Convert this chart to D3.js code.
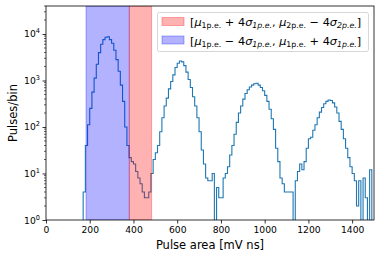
<!DOCTYPE html>
<html><head><meta charset="utf-8">
<script src="https://cdn.jsdelivr.net/npm/d3@7"></script>
<style>body{margin:0;background:#fff}svg{display:block;font-family:"DejaVu Sans",sans-serif}</style>
</head><body><svg id="c" width="381" height="259"></svg>
<script>
// Histogram: left bin edges (mV ns), bin width 10
const binStart = 170;
const binWidth = 10;
const counts = [
  4, 40, 112, 251, 562, 1122, 2239, 3981, 6026, 7586,   // 170-260
  8511, 8700, 7586, 6310, 4467, 2818, 1585, 794, 355, 100, // 270-360
  40, 22, 18, 16, 11, 8, 6, 4, 3, 3,                     // 370-460
  4, 10, 20, 28, 40, 79, 158, 282, 417, 661,             // 470-560
  955, 1318, 1905, 2344, 2630, 2512, 2089, 1514, 1047, 708, // 570-660
  447, 282, 158, 79, 32, 16, 8, 7, 7, 10,                // 670-760
  0, 5, 3, 3, 8, 10, 14, 25, 40, 70,                     // 770-860
  126, 200, 282, 398, 525, 631, 724, 794, 851, 871,      // 870-960
  794, 708, 603, 479, 355, 240, 151, 89, 35, 18,         // 970-1060
  8, 6, 4, 4, 4, 4, 0, 7, 11, 16,                        // 1070-1160
  12, 18, 35, 56, 60, 85, 112, 158, 209, 263,            // 1170-1260
  316, 355, 380, 372, 331, 269, 200, 132, 89, 56,        // 1270-1360
  35, 22, 14, 10, 7, 2, 7, 0, 8, 3,                      // 1370-1460
  0, 12, 0                                               // 1470-1490
];
const xTicks = [0, 200, 400, 600, 800, 1000, 1200, 1400];
const yTicks = [1, 10, 100, 1000, 10000];
const yTickExp = ["0", "1", "2", "3", "4"];
const bandOneTwo = [381, 483];   // [mu1 + 4 sigma1, mu2 - 4 sigma2]
const bandOne = [183, 381];      // [mu1 - 4 sigma1, mu1 + 4 sigma1]
const xDomain = [0, 1500];
const yDomain = [1, 40000];

const svg = d3.select("#c");
const L = 46, R = 374, T = 6, B = 220;
const x = d3.scaleLinear().domain(xDomain).range([L, R]);
const y = d3.scaleLog().domain(yDomain).range([B, T]);

svg.append("defs").append("clipPath").attr("id", "clip")
  .append("rect").attr("x", L).attr("y", T).attr("width", R - L).attr("height", B - T);

// step histogram
const pts = [[binStart, 0]];
counts.forEach((c, i) => {
  const e0 = binStart + i * binWidth;
  pts.push([e0, c]);
  pts.push([e0 + binWidth, c]);
});
pts.push([binStart + counts.length * binWidth, 0]);
const yv = c => c > 0 ? y(c) : y(0.3);
const line = d3.line().x(d => x(d[0])).y(d => yv(d[1]));
const g = svg.append("g").attr("clip-path", "url(#clip)");
g.append("path").attr("d", line(pts)).attr("fill", "none")
  .attr("stroke", "#1f77b4").attr("stroke-width", 1.1).attr("stroke-linejoin", "miter");

// bands
g.append("rect").attr("x", x(bandOne[0])).attr("y", T).attr("width", x(bandOne[1]) - x(bandOne[0]))
  .attr("height", B - T).attr("fill", "blue").attr("fill-opacity", 0.3)
  .attr("stroke", "blue").attr("stroke-opacity", 0.3).attr("stroke-width", 1);
g.append("rect").attr("x", x(bandOneTwo[0])).attr("y", T).attr("width", x(bandOneTwo[1]) - x(bandOneTwo[0]))
  .attr("height", B - T).attr("fill", "red").attr("fill-opacity", 0.3)
  .attr("stroke", "red").attr("stroke-opacity", 0.3).attr("stroke-width", 1);

// x axis
const xa = svg.append("g").attr("transform", `translate(0,${B})`)
  .call(d3.axisBottom(x).tickValues(xTicks).tickSize(3.5).tickPadding(2.5).tickFormat(d3.format("d")));
xa.select(".domain").remove();
xa.selectAll("text").attr("font-size", 9.2).attr("font-family", "DejaVu Sans").attr("fill", "#000");
xa.selectAll("line").attr("stroke", "#000").attr("stroke-width", 0.8);

// y axis major
const ya = svg.append("g").attr("transform", `translate(${L},0)`)
  .call(d3.axisLeft(y).tickValues(yTicks).tickSize(3.5).tickFormat(""));
ya.select(".domain").remove();
ya.selectAll("line").attr("stroke", "#000").attr("stroke-width", 0.8);
yTicks.forEach((v, i) => {
  const t = svg.append("text").attr("x", L - 6).attr("y", y(v) + 3.5)
    .attr("text-anchor", "end").attr("font-size", 9.2);
  t.append("tspan").text("10");
  t.append("tspan").attr("dy", -4).attr("font-size", 6.6).text(yTickExp[i]);
});
// y minor ticks
const minor = [];
for (let d = 1; d <= 10000; d *= 10) for (let k = 2; k <= 9; k++) if (d * k <= yDomain[1]) minor.push(d * k);
svg.append("g").selectAll("line").data(minor).join("line")
  .attr("x1", L - 2).attr("x2", L).attr("y1", d => y(d)).attr("y2", d => y(d))
  .attr("stroke", "#000").attr("stroke-width", 0.6);

// frame
svg.append("rect").attr("x", L).attr("y", T).attr("width", R - L).attr("height", B - T)
  .attr("fill", "none").attr("stroke", "#000").attr("stroke-width", 0.8);

// axis labels
svg.append("text").attr("x", (L + R) / 2).attr("y", 249).attr("text-anchor", "middle")
  .attr("font-size", 11.5).text("Pulse area [mV ns]");
svg.append("text").attr("transform", `translate(17,${(T + B) / 2}) rotate(-90)`)
  .attr("text-anchor", "middle").attr("font-size", 11.5).text("Pulses/bin");

// legend
const lg = svg.append("g");
lg.append("rect").attr("x", 157.5).attr("y", 12.5).attr("width", 211).attr("height", 39).attr("rx", 2)
  .attr("fill", "#fff").attr("fill-opacity", 0.8).attr("stroke", "#ccc").attr("stroke-width", 0.8);
lg.append("rect").attr("x", 162).attr("y", 17.5).attr("width", 22).attr("height", 8)
  .attr("fill", "red").attr("fill-opacity", 0.3).attr("stroke", "red").attr("stroke-opacity", 0.3);
lg.append("rect").attr("x", 162).attr("y", 36).attr("width", 22).attr("height", 8)
  .attr("fill", "blue").attr("fill-opacity", 0.3).attr("stroke", "blue").attr("stroke-opacity", 0.3);

function mathLabel(ty, parts) {
  const t = lg.append("text").attr("x", 190).attr("y", ty).attr("font-size", 11.3);
  parts.forEach(p => {
    const s = t.append("tspan").text(p.t);
    if (p.it) s.attr("font-style", "italic");
    if (p.sub) s.attr("font-size", 7.8).attr("dy", 2.6);
    if (p.up) s.attr("dy", -2.6);
  });
}
mathLabel(25.5, [
  {t: "["}, {t: "μ", it: 1}, {t: "1p.e.", sub: 1}, {t: " + 4", up: 1}, {t: "σ", it: 1},
  {t: "1p.e.", sub: 1, it: 1}, {t: ", ", up: 1}, {t: "μ", it: 1}, {t: "2p.e.", sub: 1},
  {t: " − 4", up: 1}, {t: "σ", it: 1}, {t: "2p.e.", sub: 1, it: 1}, {t: "]", up: 1}
]);
mathLabel(44.5, [
  {t: "["}, {t: "μ", it: 1}, {t: "1p.e.", sub: 1}, {t: " − 4", up: 1}, {t: "σ", it: 1},
  {t: "1p.e.", sub: 1, it: 1}, {t: ", ", up: 1}, {t: "μ", it: 1}, {t: "1p.e.", sub: 1},
  {t: " + 4", up: 1}, {t: "σ", it: 1}, {t: "1p.e.", sub: 1, it: 1}, {t: "]", up: 1}
]);
</script></body></html>
